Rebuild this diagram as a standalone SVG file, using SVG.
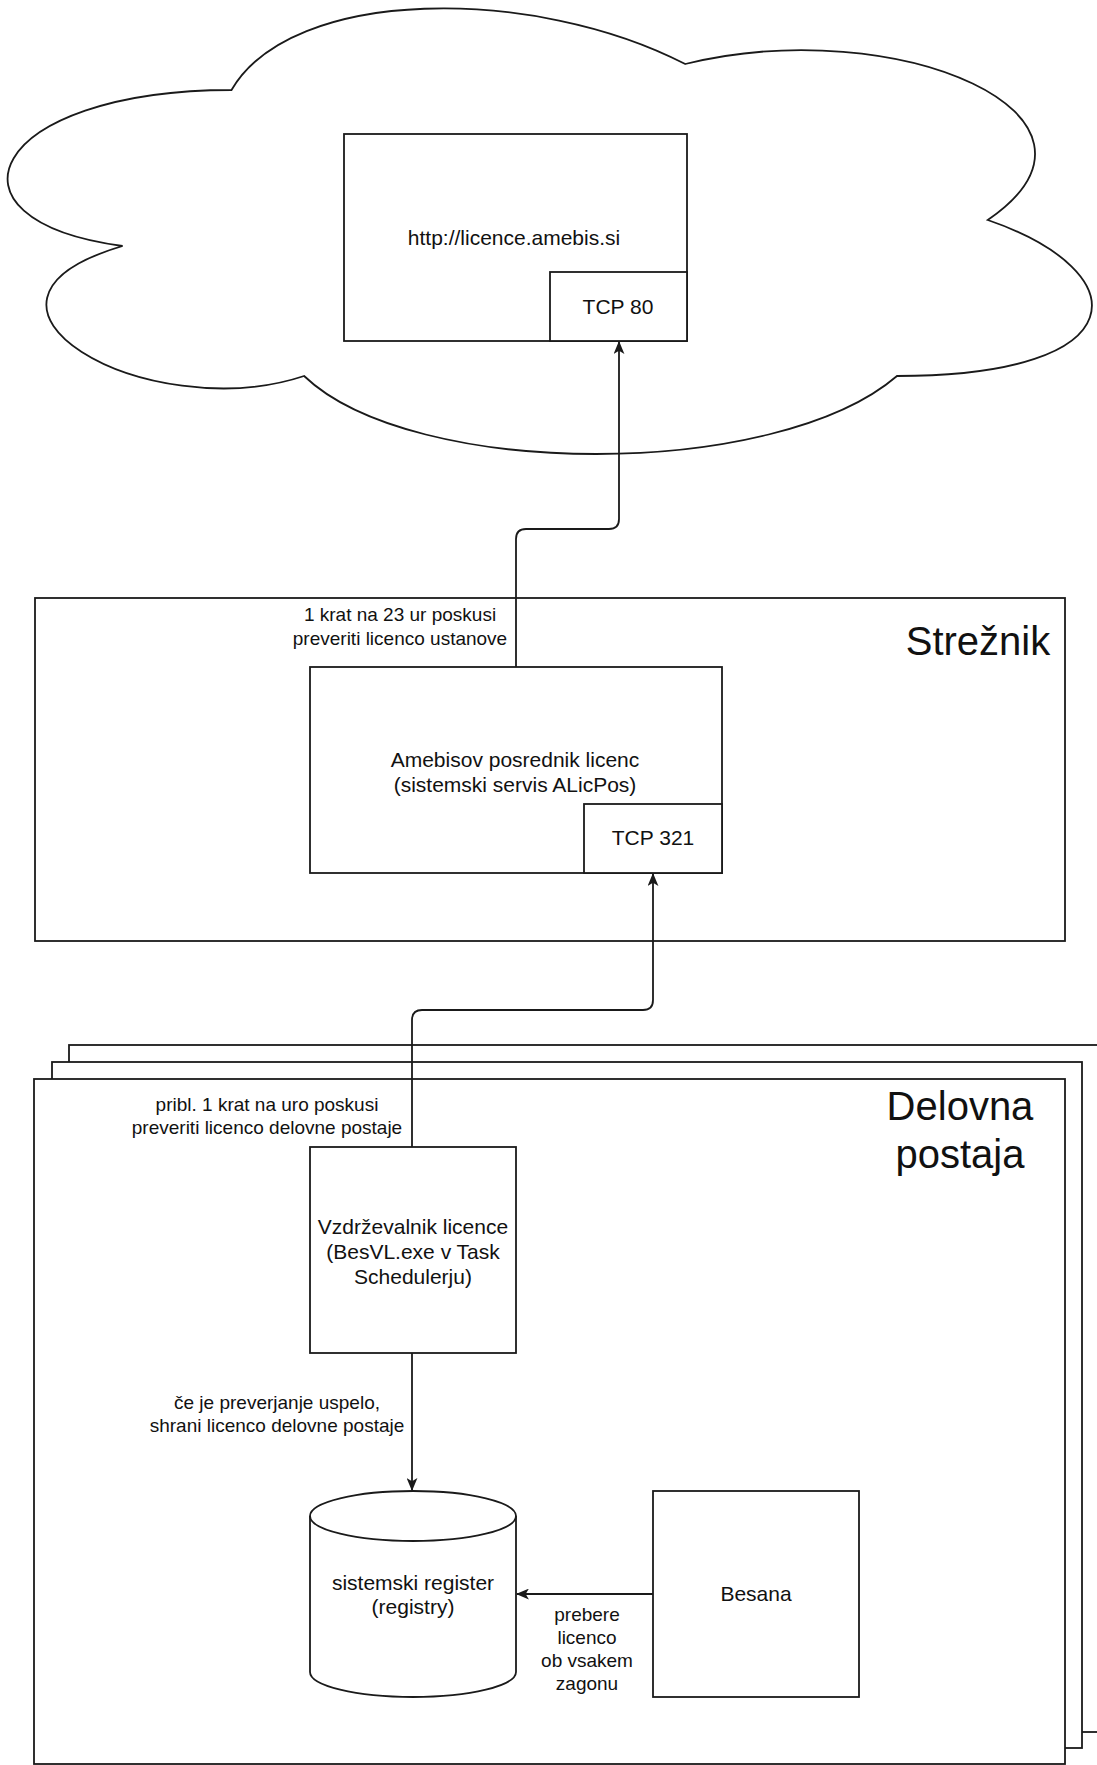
<svg xmlns="http://www.w3.org/2000/svg" width="1097" height="1765" viewBox="0 0 1097 1765">
<style>
.shape{fill:#fff;stroke:#1a1a1a;stroke-width:1.8}
.edge{fill:none;stroke:#1a1a1a;stroke-width:1.8}
.t{font-family:"Liberation Sans",Arial,Helvetica,sans-serif;fill:#111;text-anchor:middle}
.node{font-size:21px}
.lbl{font-size:19px}
.big{font-size:40px}
</style>
<defs>
<marker id="arrow" viewBox="0 0 12 10" refX="11" refY="5" markerWidth="13" markerHeight="11" markerUnits="userSpaceOnUse" orient="auto">
<path d="M0,0 L12,5 L0,10 L3,5 Z" fill="#1a1a1a"/>
</marker>
</defs>
<rect x="0" y="0" width="1097" height="1765" fill="#fff"/>

<g id="cloud">
<path class="shape" d="M231.5,90 C-10.5,90 -71,220 122.6,246 C-71,303.2 146.8,428 304.1,376 C413,480 776,480 897,376 C1139,376 1139,272 987.75,220 C1139,116 897,12 685.25,64 C534,-14 292,-14 231.5,90 Z"/>
</g>

<g id="licence-server">
<rect class="shape" x="344" y="134" width="343" height="207"/>
<text class="t node" x="514" y="245">http://licence.amebis.si</text>
</g>
<g id="tcp80">
<rect class="shape" x="550" y="272" width="137" height="69"/>
<text class="t node" x="618" y="314">TCP 80</text>
</g>

<g id="streznik">
<rect class="shape" x="35" y="598" width="1030" height="343"/>
<text class="t big" x="978" y="655">Strežnik</text>
</g>

<g id="posrednik">
<rect class="shape" x="310" y="667" width="412" height="206"/>
<text class="t node" x="515" y="767">Amebisov posrednik licenc</text>
<text class="t node" x="515" y="792">(sistemski servis ALicPos)</text>
</g>
<g id="tcp321">
<rect class="shape" x="584" y="804" width="138" height="69"/>
<text class="t node" x="653" y="845">TCP 321</text>
</g>

<g id="delovna-postaja">
<rect class="shape" x="69" y="1045" width="1045" height="687"/>
<rect class="shape" x="52" y="1062" width="1030" height="686"/>
<rect class="shape" x="34" y="1079" width="1031" height="685"/>
<text class="t big" x="960" y="1120">Delovna</text>
<text class="t big" x="960" y="1168">postaja</text>
</g>

<g id="vzdrzevalnik">
<rect class="shape" x="310" y="1147" width="206" height="206"/>
<text class="t node" x="413" y="1234">Vzdrževalnik licence</text>
<text class="t node" x="413" y="1259">(BesVL.exe v Task</text>
<text class="t node" x="413" y="1284">Schedulerju)</text>
</g>

<g id="register">
<path class="shape" d="M310,1516 A103,25 0 0,1 516,1516 V1672 A103,25 0 0,1 310,1672 Z"/>
<path class="edge" d="M310,1516 A103,25 0 0,0 516,1516"/>
<text class="t node" x="413" y="1590">sistemski register</text>
<text class="t node" x="413" y="1614">(registry)</text>
</g>

<g id="besana">
<rect class="shape" x="653" y="1491" width="206" height="206"/>
<text class="t node" x="756" y="1601">Besana</text>
</g>

<g id="connectors">
<path class="edge" d="M516,667 V539 Q516,529 526,529 H609 Q619,529 619,519 V342" marker-end="url(#arrow)"/>
<path class="edge" d="M412,1147 V1020 Q412,1010 422,1010 H643 Q653,1010 653,1000 V874" marker-end="url(#arrow)"/>
<path class="edge" d="M412,1353 V1490" marker-end="url(#arrow)"/>
<path class="edge" d="M653,1594 H517" marker-end="url(#arrow)"/>
<text class="t lbl" x="400" y="621">1 krat na 23 ur poskusi</text>
<text class="t lbl" x="400" y="645">preveriti licenco ustanove</text>
<text class="t lbl" x="267" y="1111">pribl. 1 krat na uro poskusi</text>
<text class="t lbl" x="267" y="1134">preveriti licenco delovne postaje</text>
<text class="t lbl" x="277" y="1409">če je preverjanje uspelo,</text>
<text class="t lbl" x="277" y="1432">shrani licenco delovne postaje</text>
<text class="t lbl" x="587" y="1621">prebere</text>
<text class="t lbl" x="587" y="1644">licenco</text>
<text class="t lbl" x="587" y="1667">ob vsakem</text>
<text class="t lbl" x="587" y="1690">zagonu</text>
</g>
</svg>
